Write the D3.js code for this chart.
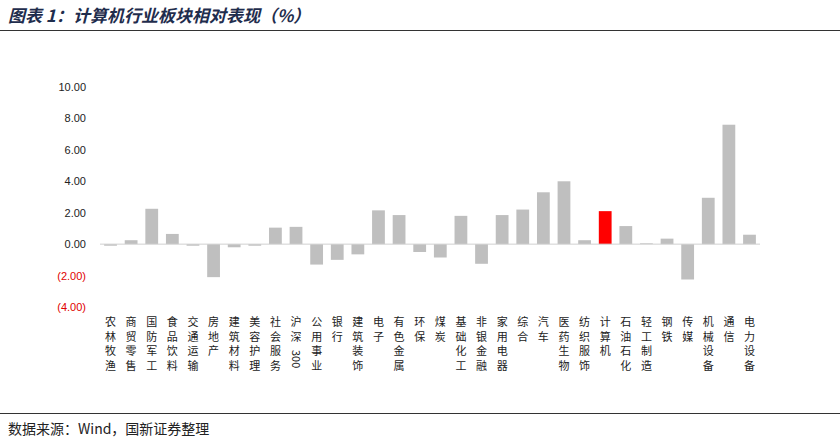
<!DOCTYPE html><html><head><meta charset="utf-8"><script src="https://cdn.jsdelivr.net/npm/d3@7"></script>
<style>body{margin:0;background:#fff}</style></head><body><svg id="c" width="840" height="443"></svg><script>
const categories=["农林牧渔","商贸零售","国防军工","食品饮料","交通运输","房地产","建筑材料","美容护理","社会服务","沪深300","公用事业","银行","建筑装饰","电子","有色金属","环保","煤炭","基础化工","非银金融","家用电器","综合","汽车","医药生物","纺织服饰","计算机","石油石化","轻工制造","钢铁","传媒","机械设备","通信","电力设备"];
const values=[-0.1,0.25,2.25,0.65,-0.1,-2.1,-0.2,-0.1,1.05,1.1,-1.3,-1.0,-0.65,2.15,1.85,-0.5,-0.85,1.8,-1.25,1.85,2.2,3.3,4.0,0.25,2.1,1.15,0.05,0.35,-2.25,2.95,7.6,0.6];
const ticks=[-4,-2,0,2,4,6,8,10];
const svg=d3.select("#c");
const font="'Noto Sans CJK SC',sans-serif";
svg.append("text").attr("x",8).attr("y",22).attr("font-family",font).attr("font-size",17).attr("font-weight","bold").attr("font-style","italic").attr("fill","#1f2d4d").text("图表 1：计算机行业板块相对表现（%）");
svg.append("line").attr("x1",0).attr("x2",840).attr("y1",30.5).attr("y2",30.5).attr("stroke","#333");
svg.append("line").attr("x1",0).attr("x2",840).attr("y1",413.5).attr("y2",413.5).attr("stroke","#333");
svg.append("text").attr("x",8).attr("y",434).attr("font-family",font).attr("font-size",14).attr("fill","#222").text("数据来源：Wind，国新证券整理");
const y=d3.scaleLinear().domain([-4,10]).range([307,87]);
const x=d3.scaleBand().domain(categories).range([100,760]).paddingInner(0.38).paddingOuter(0.2);
svg.append("g").selectAll("text").data(ticks).join("text")
 .attr("x",86).attr("y",d=>y(d)+4).attr("text-anchor","end").attr("font-family","'Liberation Sans',Arial").attr("font-size",11)
 .attr("fill",d=>d<0?"#e00000":"#222").text(d=>d<0?"("+Math.abs(d).toFixed(2)+")":d.toFixed(2));
svg.selectAll("rect").data(values).join("rect").attr("x",(d,i)=>x(categories[i])).attr("width",x.bandwidth())
 .attr("y",d=>y(Math.max(0,d))).attr("height",d=>Math.abs(y(d)-y(0)))
 .attr("fill",(d,i)=>categories[i]==="计算机"?"#ff0000":"#bfbfbf");
svg.append("line").attr("x1",100).attr("x2",760).attr("y1",y(0)).attr("y2",y(0)).attr("stroke","#d0d0d0");
const g=svg.append("g");
categories.forEach((c,i)=>{
  const cx=x(c)+x.bandwidth()/2;
  const chars=c==="沪深300"?["沪","深"]:[...c];
  chars.forEach((ch,k)=>g.append("text").attr("x",cx).attr("y",326+k*14.5).attr("font-family",font).attr("font-size",11).attr("fill","#222").attr("text-anchor","middle").text(ch));
  if(c==="沪深300")
    g.append("text").attr("transform",`translate(${cx-4},${350}) rotate(90)`).attr("font-family",font).attr("font-size",11).attr("fill","#222").text("300");
});
</script></body></html>
